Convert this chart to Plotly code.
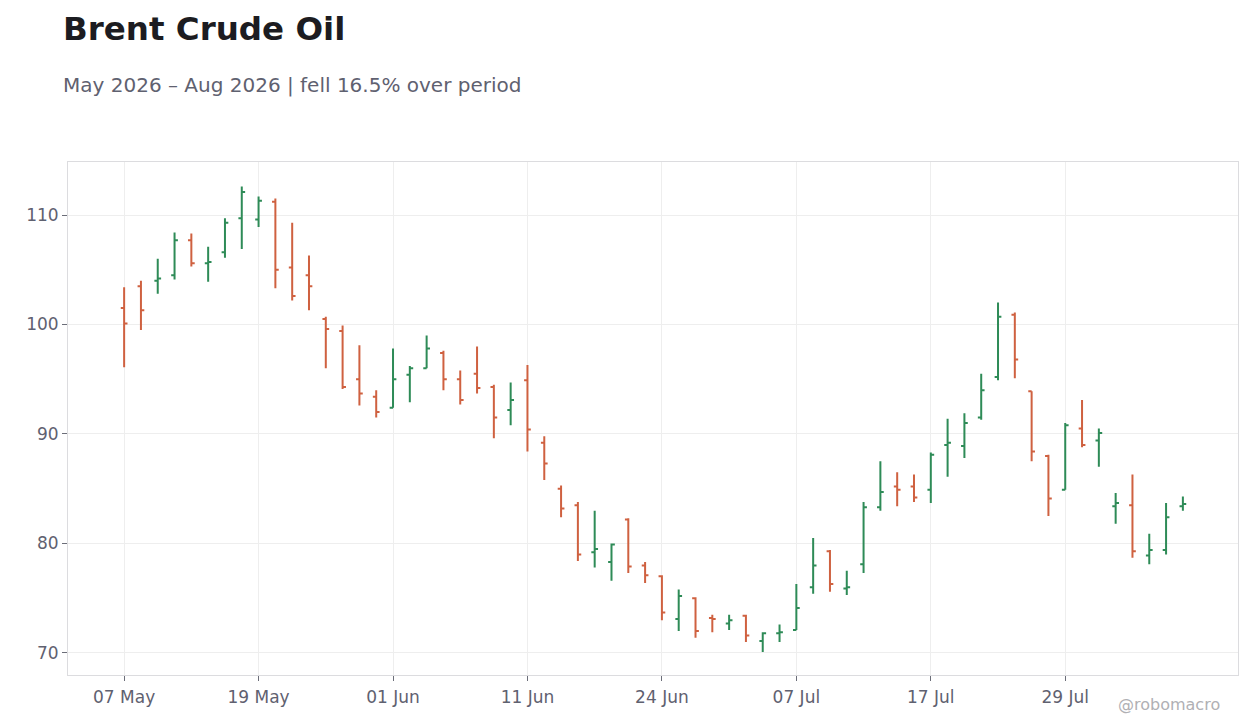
import plotly.graph_objects as go

dates = [
    "2026-05-07", "2026-05-08", "2026-05-11", "2026-05-12", "2026-05-13", "2026-05-14", "2026-05-15",
    "2026-05-18", "2026-05-19", "2026-05-20", "2026-05-21", "2026-05-22", "2026-05-26", "2026-05-27",
    "2026-05-28", "2026-05-29",
    "2026-06-01", "2026-06-02", "2026-06-03", "2026-06-04", "2026-06-05", "2026-06-08", "2026-06-09",
    "2026-06-10", "2026-06-11", "2026-06-12", "2026-06-15", "2026-06-16", "2026-06-17", "2026-06-18",
    "2026-06-22", "2026-06-23", "2026-06-24", "2026-06-25", "2026-06-26", "2026-06-29", "2026-06-30",
    "2026-07-01", "2026-07-02", "2026-07-06", "2026-07-07", "2026-07-08", "2026-07-09", "2026-07-10",
    "2026-07-13", "2026-07-14", "2026-07-15", "2026-07-16", "2026-07-17", "2026-07-20", "2026-07-21",
    "2026-07-22", "2026-07-23", "2026-07-24", "2026-07-27", "2026-07-28", "2026-07-29", "2026-07-30",
    "2026-07-31",
    "2026-08-03", "2026-08-04", "2026-08-05", "2026-08-06", "2026-08-07",
]

open_ = [
    101.5, 103.5, 104.0, 104.5, 107.7, 105.6, 106.6, 109.7, 109.6, 111.2, 105.2, 104.5, 100.5, 99.4,
    95.0, 93.4, 92.4, 95.4, 96.0, 97.4, 95.0, 95.5, 94.3, 92.2, 94.9, 89.2, 85.0, 83.5, 79.2, 78.3,
    82.2, 78.0, 77.0, 73.1, 75.0, 73.2, 72.7, 73.4, 71.1, 71.8, 72.1, 76.0, 79.3, 75.9, 78.1, 83.3,
    85.2, 85.2, 84.9, 89.0, 88.9, 91.5, 95.2, 100.9, 93.9, 88.0, 84.9, 90.5, 89.4, 83.4, 83.5, 78.9,
    79.4, 83.4,
]
high = [
    103.4, 104.0, 106.0, 108.4, 108.3, 107.1, 109.7, 112.6, 111.7, 111.5, 109.3, 106.3, 100.7, 99.9,
    98.1, 94.0, 97.8, 96.2, 99.0, 97.6, 95.8, 98.0, 94.5, 94.7, 96.3, 89.8, 85.3, 83.8, 83.0, 80.0,
    82.3, 78.3, 77.1, 75.8, 75.1, 73.5, 73.5, 73.5, 71.9, 72.6, 76.3, 80.5, 79.4, 77.5, 83.8, 87.5,
    86.5, 86.3, 88.3, 91.4, 91.9, 95.5, 102.0, 101.1, 93.9, 88.1, 91.0, 93.1, 90.5, 84.6, 86.3, 80.9,
    83.7, 84.3,
]
low = [
    96.1, 99.5, 102.8, 104.1, 105.3, 103.9, 106.1, 106.9, 108.9, 103.3, 102.2, 101.3, 96.0, 94.1,
    92.6, 91.5, 92.4, 92.9, 96.0, 94.0, 92.7, 93.7, 89.6, 90.8, 88.4, 85.8, 82.4, 78.4, 77.8, 76.6,
    77.3, 76.4, 73.0, 72.0, 71.4, 71.9, 72.1, 71.0, 70.1, 71.0, 72.1, 75.4, 75.6, 75.3, 77.3, 83.0,
    83.4, 83.8, 83.7, 86.1, 87.8, 91.3, 94.9, 95.1, 87.5, 82.5, 84.9, 88.8, 87.0, 81.8, 78.7, 78.1,
    79.0, 83.0,
]
close = [
    100.1, 101.3, 104.2, 107.7, 105.6, 105.7, 109.3, 112.1, 111.3, 105.0, 102.6, 103.5, 99.6, 94.3,
    93.7, 92.0, 95.0, 96.0, 97.8, 95.0, 93.1, 94.2, 91.5, 93.1, 90.4, 87.3, 83.2, 79.0, 79.5, 79.9,
    77.9, 77.1, 73.7, 75.2, 72.0, 73.1, 73.0, 71.6, 71.8, 71.9, 74.1, 78.0, 76.3, 76.0, 83.3, 84.7,
    84.9, 84.2, 88.1, 89.2, 91.0, 94.0, 100.7, 96.8, 88.4, 84.1, 90.8, 89.0, 90.1, 83.7, 79.3, 79.4,
    82.4, 83.6,
]

tick_dates = ["2026-05-07", "2026-05-19", "2026-06-01", "2026-06-11",
              "2026-06-24", "2026-07-07", "2026-07-17", "2026-07-29"]
tick_labels = ["07 May", "19 May", "01 Jun", "11 Jun", "24 Jun", "07 Jul", "17 Jul", "29 Jul"]

UP = "#2e8b57"
DOWN = "#cf6140"
FONT = "DejaVu Sans"

fig = go.Figure(go.Ohlc(
    x=dates, open=open_, high=high, low=low, close=close,
    increasing=dict(line=dict(color=UP, width=2)),
    decreasing=dict(line=dict(color=DOWN, width=2)),
    tickwidth=0.2,
    showlegend=False,
))

fig.update_layout(
    width=1244, height=712,
    margin=dict(l=60, r=14, t=154, b=45),
    paper_bgcolor="white", plot_bgcolor="white",
    font=dict(family=FONT, size=17, color="#5f6170"),
    xaxis=dict(
        type="category", range=[-3.34, 66.28],
        tickmode="array", tickvals=tick_dates, ticktext=tick_labels,
        showgrid=True, gridcolor="#eeeeee", gridwidth=1,
        showline=True, linecolor="#dcdcdf", linewidth=1, mirror=True,
        ticks="outside", ticklen=5, tickcolor="#6b6d78",
        ticklabelstandoff=2,
        rangeslider=dict(visible=False),
        tickfont=dict(size=17, color="#5f6170"),
    ),
    yaxis=dict(
        range=[67.99, 114.84], tickmode="array", tickvals=[70, 80, 90, 100, 110],
        showgrid=True, gridcolor="#eeeeee", gridwidth=1,
        showline=True, linecolor="#dcdcdf", linewidth=1, mirror=True,
        ticks="outside", ticklen=5, tickcolor="#6b6d78",
        zeroline=False,
        tickfont=dict(size=17, color="#5f6170"),
    ),
    annotations=[
        dict(text="<b>Brent Crude Oil</b>", xref="paper", yref="paper",
             x=(61 - 68) / 1170, xanchor="left",
             y=(675 - 29) / 513, yanchor="middle", showarrow=False,
             font=dict(family=FONT, size=32.5, color="#1c1c21")),
        dict(text="May 2026 – Aug 2026 | fell 16.5% over period", xref="paper", yref="paper",
             x=(61 - 68) / 1170, xanchor="left",
             y=(675 - 85) / 513, yanchor="middle", showarrow=False,
             font=dict(family=FONT, size=20, color="#5f6170")),
        dict(text="@robomacro", xref="paper", yref="paper",
             x=(1222 - 68) / 1170, xanchor="right",
             y=(675 - 704) / 513, yanchor="middle", showarrow=False,
             font=dict(family=FONT, size=16, color="#b0b0b4")),
    ],
)

fig.write_html("out.html")
